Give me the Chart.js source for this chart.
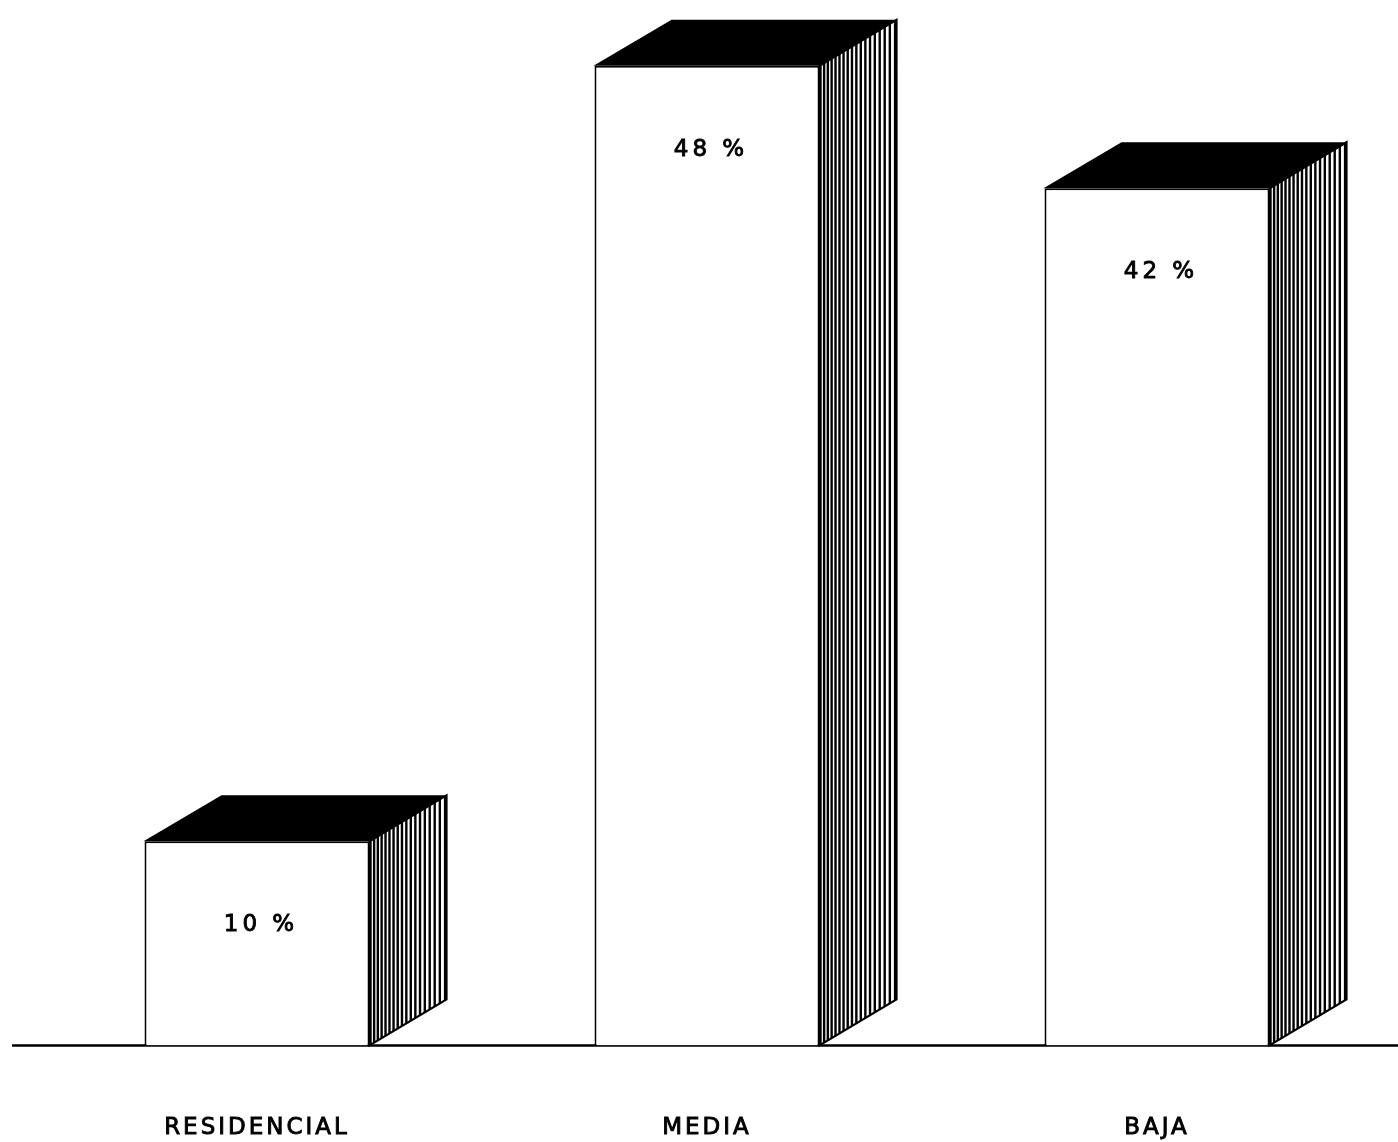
<!DOCTYPE html>
<html lang="es">
<head>
    <meta charset="UTF-8">
    <title>Distribución por nivel</title>
    <script src="https://cdn.jsdelivr.net/npm/chart.js"></script>
</head>
<style>
    body {
        margin: 0;
        background: #fff;
    }
    canvas {
        display: block;
    }
</style>
<body>
    <canvas id="barras" width="1398" height="1142"></canvas>
    <script>
        const categorias = ['RESIDENCIAL', 'MEDIA', 'BAJA'];
        const porcentajes = [10, 48, 42];

        // depth of the fake 3D box (px)
        const DX = 77, DY = -46;
        const FUENTE = '"DejaVu Sans", "Liberation Sans", Arial, sans-serif';

        function caraLateral(ctx, r, t, b) {
            ctx.beginPath();
            ctx.moveTo(r, t);
            ctx.lineTo(r + DX, t + DY);
            ctx.lineTo(r + DX, b + DY);
            ctx.lineTo(r, b);
            ctx.closePath();
        }

        const cubo3d = {
            id: 'cubo3d',
            beforeDraw(chart) {
                chart.ctx.letterSpacing = '3px';
            },
            beforeDatasetsDraw(chart) {
                const ctx = chart.ctx;
                const y0 = chart.scales.y.getPixelForValue(0);
                ctx.save();
                ctx.strokeStyle = '#000';
                ctx.lineWidth = 2.5;
                ctx.beginPath();
                ctx.moveTo(12, y0);
                ctx.lineTo(chart.width, y0);
                ctx.stroke();
                ctx.restore();
            },
            afterDatasetsDraw(chart) {
                const ctx = chart.ctx;
                const meta = chart.getDatasetMeta(0);
                meta.data.forEach((bar, i) => {
                    const l = bar.x - bar.width / 2;
                    const r = bar.x + bar.width / 2;
                    const t = bar.y;
                    const b = bar.base;
                    ctx.save();

                    // top face
                    ctx.fillStyle = '#000';
                    ctx.beginPath();
                    ctx.moveTo(l - 1, t);
                    ctx.lineTo(l + DX, t + DY);
                    ctx.lineTo(r + DX, t + DY);
                    ctx.lineTo(r, t);
                    ctx.closePath();
                    ctx.fill();

                    // side face, hatched (denser near the front edge)
                    caraLateral(ctx, r, t, b);
                    ctx.fillStyle = '#fff';
                    ctx.fill();
                    ctx.save();
                    ctx.clip();
                    ctx.strokeStyle = '#000';
                    ctx.lineWidth = 2.4;
                    let x = r + 1;
                    while (x <= r + DX) {
                        ctx.beginPath();
                        ctx.moveTo(x, t + DY - 2);
                        ctx.lineTo(x, b + 2);
                        ctx.stroke();
                        x += 3.6 + 1.8 * (x - r) / DX;
                    }
                    ctx.restore();
                    caraLateral(ctx, r, t, b);
                    ctx.strokeStyle = '#000';
                    ctx.lineWidth = 2.2;
                    ctx.stroke();

                    // value label
                    ctx.fillStyle = '#000';
                    ctx.strokeStyle = '#000';
                    ctx.lineWidth = 0.9;
                    ctx.font = '23px ' + FUENTE;
                    ctx.letterSpacing = '4px';
                    ctx.textAlign = 'center';
                    ctx.textBaseline = 'middle';
                    const txt = porcentajes[i] + ' %';
                    ctx.fillText(txt, bar.x + 4, t + 84);
                    ctx.strokeText(txt, bar.x + 4, t + 84);
                    ctx.restore();
                });
            }
        };

        new Chart(document.getElementById('barras'), {
            type: 'bar',
            data: {
                labels: categorias,
                datasets: [{
                    data: porcentajes,
                    backgroundColor: '#fff',
                    borderColor: '#000',
                    borderWidth: 2,
                    borderSkipped: 'start',
                    barPercentage: 1,
                    categoryPercentage: 0.5
                }]
            },
            options: {
                responsive: false,
                animation: false,
                devicePixelRatio: 1,
                layout: { padding: { left: 32, right: 16, top: 25, bottom: -69 } },
                plugins: {
                    legend: { display: false },
                    tooltip: { enabled: false }
                },
                scales: {
                    x: {
                        grid: { display: false, drawTicks: false },
                        border: { display: false },
                        ticks: {
                            color: '#000',
                            padding: 69,
                            textStrokeColor: '#000',
                            textStrokeWidth: 0.9,
                            font: { family: FUENTE, size: 23 }
                        }
                    },
                    y: {
                        display: false,
                        min: 0,
                        max: 50
                    }
                }
            },
            plugins: [cubo3d]
        });
    </script>
</body>
</html>
